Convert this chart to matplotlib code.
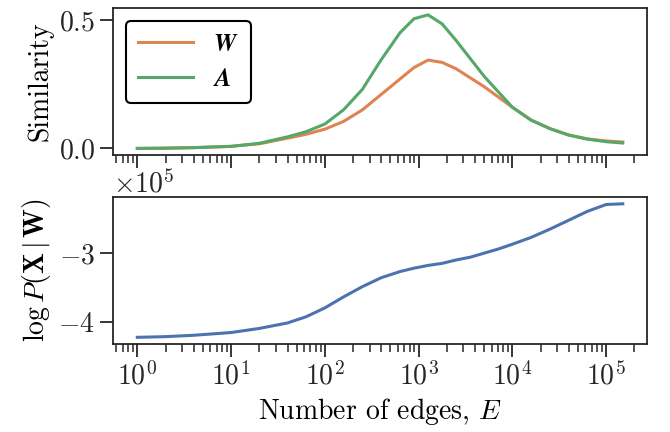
import matplotlib
matplotlib.use("Agg")
import matplotlib.pyplot as plt

# number of edges (x axis, log scale)
edges = [1, 2, 4, 10, 20, 40, 63, 100, 158, 251, 398, 631, 891, 1259, 1778,
         2512, 3548, 5012, 7079, 10000, 15849, 25119, 39811, 63096, 100000,
         150000]

# similarity of W and A
sim_W = [0.0, 0.001, 0.003, 0.008, 0.018, 0.04, 0.055, 0.075, 0.105, 0.15,
         0.21, 0.27, 0.315, 0.344, 0.335, 0.31, 0.275, 0.24, 0.2, 0.16, 0.11,
         0.077, 0.052, 0.037, 0.029, 0.025]
sim_A = [0.0, 0.001, 0.003, 0.008, 0.02, 0.045, 0.065, 0.095, 0.15, 0.23,
         0.345, 0.45, 0.505, 0.52, 0.485, 0.42, 0.35, 0.28, 0.22, 0.16, 0.11,
         0.077, 0.052, 0.036, 0.026, 0.021]

# log-likelihood
log_p = [-4.23e5, -4.22e5, -4.20e5, -4.16e5, -4.10e5, -4.02e5, -3.93e5,
         -3.80e5, -3.64e5, -3.49e5, -3.36e5, -3.27e5, -3.22e5, -3.18e5,
         -3.15e5, -3.10e5, -3.06e5, -3.00e5, -2.94e5, -2.87e5, -2.77e5,
         -2.65e5, -2.52e5, -2.39e5, -2.29e5, -2.28e5]

plt.rcParams.update({
    "font.family": "serif",
    "font.serif": ["cmr10"],
    "mathtext.fontset": "cm",
    "axes.formatter.use_mathtext": True,
    "font.size": 20,
    "axes.edgecolor": "#262626",
    "axes.linewidth": 1.3,
    "xtick.color": "#262626",
    "ytick.color": "#262626",
    "xtick.major.size": 9.5,
    "ytick.major.size": 9.5,
    "xtick.minor.size": 6,
    "xtick.major.width": 1.3,
    "ytick.major.width": 1.3,
    "xtick.minor.width": 1.1,
})

fig = plt.figure(figsize=(6.7, 4.32), dpi=100)
ax1 = fig.add_axes([0.1687, 0.641, 0.797, 0.340])
ax2 = fig.add_axes([0.1687, 0.2037, 0.797, 0.340], sharex=ax1)

ax1.plot(edges, sim_W, color="#DD8452", lw=2.2, label=r"$\mathbfit{W}$")
ax1.plot(edges, sim_A, color="#55A868", lw=2.2, label=r"$\mathbfit{A}$")
ax1.set_xscale("log")
ax1.set_yticks([0.0, 0.5])
ax1.set_ylabel("Similarity")
ax1.tick_params(labelbottom=False)
leg = ax1.legend(loc="upper left", fancybox=True, framealpha=1,
                 edgecolor="black", handlelength=2.2, borderpad=0.5,
                 fontsize=18)
leg.get_frame().set_linewidth(1.5)

ax2.plot(edges, log_p, color="#4C72B0", lw=2.2)
ax2.set_yticks([-4e5, -3e5])
ax2.ticklabel_format(axis="y", style="sci", scilimits=(0, 0))
ax2.set_ylabel(r"$\log P(\mathbf{X}\,|\,\mathbf{W})$")
ax2.set_xlabel(r"Number of edges, $E$")
ax2.set_xticks([1, 10, 100, 1000, 10000, 100000])

fig.align_ylabels([ax1, ax2])
fig.savefig("out.png", dpi=100)
